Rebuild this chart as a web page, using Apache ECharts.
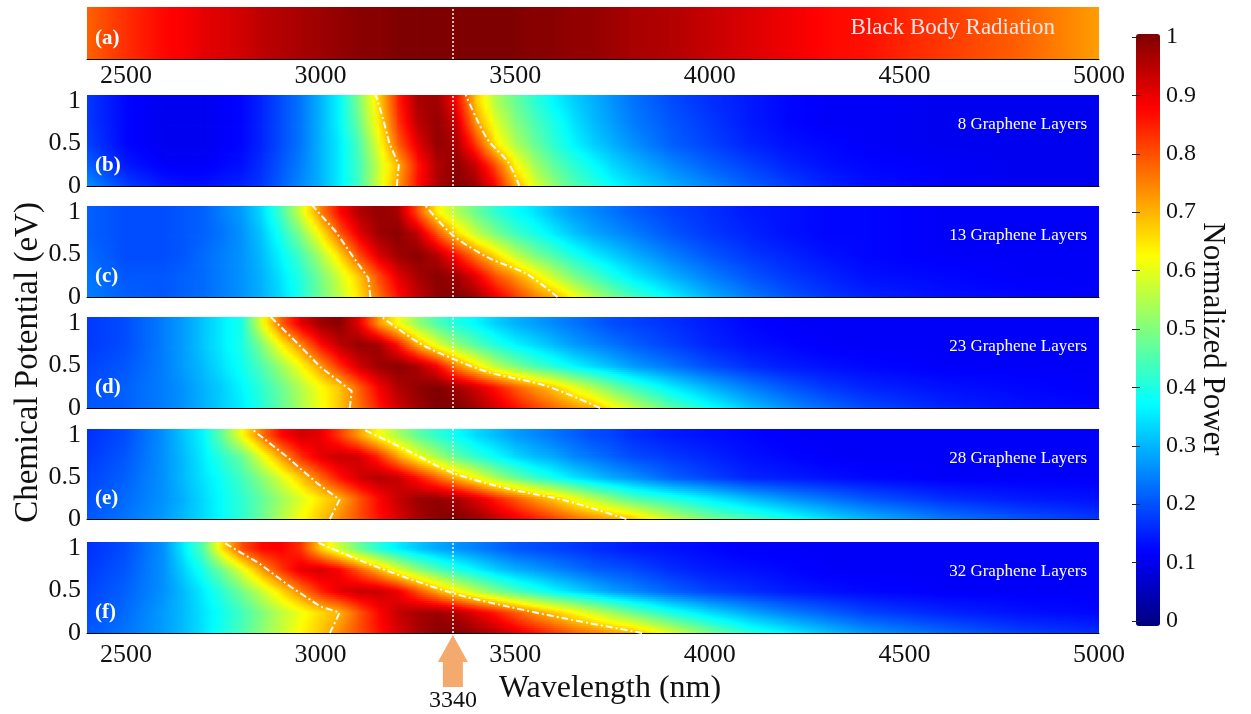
<!DOCTYPE html>
<html><head><meta charset="utf-8">
<script src="https://cdn.jsdelivr.net/npm/echarts@6/dist/echarts.min.js"></script>
<style>html,body{margin:0;padding:0;background:#fff}#chart{width:1251px;height:714px}</style>
</head><body><div id="chart"></div>
<script>
// ---------------- DATA ----------------
const wavelengths = [2400,2500,2600,2650,2700,2750,2800,2850,2900,2950,3000,3050,3100,3150,3200,3250,3300,3350,3400,3450,3500,3550,3600,3650,3700,3750,3800,3900,4000,4100,4200,4300,4400,4600,4800,5000];
const muLevels = [0, 0.25, 0.5, 0.75, 1];
const muTop = 1.07;
const xTicks = [2500,3000,3500,4000,4500,5000];
const yTicks = [0, 0.5, 1];
const markerWavelength = 3340;

const blackBody = [.78,.83,.87,.88,.9,.91,.92,.94,.95,.96,.97,.98,.99,.99,1,1,1,1,1,1,1,.99,.99,.98,.98,.97,.96,.95,.93,.91,.89,.87,.86,.82,.78,.72];

// rows: mu = 0, 0.25, 0.5, 0.75, 1
const layers8 = [
 [.27,.19,.15,.14,.14,.15,.16,.18,.22,.26,.3,.36,.44,.58,.72,.86,.95,1,.97,.88,.72,.6,.52,.46,.42,.38,.35,.3,.26,.22,.19,.16,.14,.12,.11,.11],
 [.22,.15,.12,.12,.12,.13,.14,.17,.21,.25,.3,.36,.44,.57,.7,.85,.95,.99,.93,.8,.64,.54,.47,.42,.38,.34,.31,.26,.22,.19,.16,.14,.13,.12,.11,.11],
 [.19,.13,.11,.11,.11,.12,.13,.16,.2,.24,.3,.36,.45,.6,.78,.9,.98,.96,.82,.65,.55,.48,.42,.37,.33,.3,.27,.22,.19,.16,.14,.13,.12,.11,.11,.11],
 [.18,.13,.11,.11,.11,.12,.13,.16,.2,.24,.3,.37,.48,.64,.82,.94,.98,.93,.73,.6,.51,.45,.4,.35,.31,.28,.25,.21,.18,.15,.13,.12,.12,.11,.11,.11],
 [.18,.13,.11,.11,.11,.12,.13,.16,.2,.24,.3,.37,.5,.66,.84,.96,.97,.88,.68,.55,.48,.42,.37,.33,.3,.27,.24,.2,.17,.15,.13,.12,.12,.11,.11,.11]
];
const layers13 = [
 [.25,.22,.21,.22,.23,.25,.27,.3,.34,.4,.48,.56,.65,.76,.86,.93,.98,1,.97,.9,.83,.76,.71,.63,.56,.5,.45,.37,.3,.25,.21,.18,.16,.14,.13,.12],
 [.24,.21,.21,.22,.23,.25,.27,.3,.35,.41,.49,.58,.68,.8,.9,.96,.99,.97,.9,.8,.73,.65,.57,.5,.45,.4,.36,.3,.25,.21,.18,.16,.14,.13,.12,.12],
 [.23,.2,.2,.21,.23,.25,.27,.31,.37,.44,.54,.66,.8,.91,.97,.99,.95,.86,.75,.66,.57,.5,.45,.4,.36,.33,.3,.25,.21,.18,.16,.14,.13,.12,.12,.12],
 [.22,.2,.2,.21,.22,.24,.27,.32,.4,.5,.63,.78,.9,.97,.99,.94,.8,.67,.57,.5,.44,.4,.36,.32,.29,.27,.25,.21,.18,.16,.14,.13,.13,.12,.12,.12],
 [.22,.2,.2,.21,.22,.25,.28,.34,.44,.58,.74,.87,.95,.98,.96,.8,.64,.55,.48,.42,.38,.35,.31,.28,.26,.24,.22,.19,.17,.15,.14,.13,.13,.12,.12,.12]
];
const layers23 = [
 [.21,.22,.25,.27,.3,.33,.36,.41,.47,.54,.61,.68,.76,.85,.92,.97,1,1,.97,.92,.87,.82,.78,.74,.71,.64,.58,.47,.39,.32,.27,.23,.2,.16,.14,.13],
 [.2,.22,.25,.27,.3,.33,.37,.42,.48,.55,.62,.68,.78,.88,.95,.98,1,.97,.92,.86,.79,.73,.68,.61,.55,.49,.44,.36,.3,.25,.21,.18,.16,.14,.13,.12],
 [.19,.21,.25,.28,.31,.35,.39,.45,.53,.62,.72,.83,.92,.97,.99,.96,.88,.75,.65,.56,.5,.45,.41,.37,.34,.31,.28,.24,.2,.17,.15,.14,.13,.12,.12,.12],
 [.18,.2,.25,.28,.32,.36,.4,.5,.63,.74,.86,.94,.98,.97,.86,.71,.6,.52,.46,.41,.37,.34,.31,.28,.26,.24,.22,.19,.16,.14,.13,.12,.12,.12,.12,.12],
 [.18,.2,.25,.28,.32,.36,.4,.6,.78,.9,.97,.99,.9,.73,.62,.52,.45,.4,.37,.33,.3,.28,.26,.24,.22,.2,.19,.17,.15,.13,.12,.12,.12,.12,.12,.12]
];
const layers28 = [
 [.21,.24,.28,.31,.34,.38,.42,.48,.55,.62,.68,.74,.8,.86,.91,.96,.99,1,.98,.94,.9,.86,.82,.78,.75,.72,.69,.58,.5,.45,.4,.35,.31,.25,.21,.18],
 [.2,.23,.27,.3,.34,.38,.42,.47,.53,.59,.65,.7,.79,.87,.93,.97,.98,.96,.91,.85,.79,.73,.68,.62,.56,.51,.46,.41,.36,.31,.27,.24,.21,.17,.15,.14],
 [.19,.22,.27,.31,.35,.39,.44,.51,.59,.68,.77,.86,.92,.95,.93,.86,.78,.7,.62,.54,.48,.43,.39,.35,.32,.29,.27,.22,.19,.16,.15,.14,.13,.12,.12,.12],
 [.18,.21,.27,.31,.36,.42,.48,.6,.72,.83,.9,.93,.92,.84,.72,.62,.54,.47,.42,.38,.34,.31,.29,.26,.24,.22,.2,.18,.16,.14,.13,.12,.12,.12,.12,.12],
 [.17,.2,.27,.32,.37,.48,.62,.76,.87,.92,.9,.82,.72,.62,.54,.47,.42,.38,.34,.31,.28,.26,.24,.22,.2,.19,.17,.15,.14,.13,.12,.12,.12,.12,.12,.12]
];
const layers32 = [
 [.21,.24,.28,.31,.35,.4,.45,.51,.57,.63,.68,.74,.8,.86,.91,.96,.99,1,.98,.95,.91,.87,.83,.79,.76,.73,.71,.6,.5,.42,.37,.32,.28,.23,.19,.17],
 [.2,.23,.28,.31,.35,.39,.44,.5,.56,.61,.66,.7,.79,.87,.93,.96,.97,.95,.9,.85,.79,.73,.68,.63,.58,.53,.48,.4,.34,.29,.25,.22,.19,.16,.14,.13],
 [.19,.22,.27,.31,.36,.42,.49,.57,.66,.75,.84,.9,.93,.93,.89,.8,.71,.63,.56,.5,.45,.41,.37,.34,.31,.28,.26,.22,.19,.17,.15,.14,.13,.12,.12,.12],
 [.18,.21,.27,.33,.4,.49,.6,.72,.82,.9,.92,.88,.79,.7,.6,.52,.46,.41,.37,.33,.3,.28,.26,.24,.22,.21,.2,.17,.15,.14,.13,.12,.12,.12,.12,.12],
 [.17,.2,.27,.36,.46,.66,.8,.87,.88,.83,.68,.57,.48,.41,.36,.32,.29,.27,.25,.23,.21,.2,.19,.18,.17,.16,.15,.14,.13,.12,.12,.12,.12,.12,.12,.12]
];

// white dash-dot contour lines [wavelength, mu]
const contour8L  = [[3196,0],[3201,0.25],[3177,0.5],[3160,0.8],[3142,1.07]];
const contour8R  = [[3511,0],[3482,0.28],[3432,0.53],[3400,0.8],[3373,1.07]];
const contour13L = [[3128,0],[3123,0.22],[3078,0.51],[3039,0.77],[2980,1.07]];
const contour13R = [[3609,0],[3530,0.27],[3432,0.46],[3339,0.73],[3270,1.07]];
const contour23L = [[3075,0],[3080,0.2],[3000,0.48],[2941,0.76],[2872,1.07]];
const contour23R = [[3718,0],[3580,0.26],[3432,0.42],[3339,0.58],[3255,0.76],[3157,1.07]];
const contour28L = [[3024,0],[3049,0.23],[2990,0.43],[2911,0.75],[2823,1.07]];
const contour28R = [[3786,0],[3629,0.22],[3482,0.36],[3339,0.55],[3216,0.83],[3108,1.07]];
const contour32L = [[3024,0],[3049,0.24],[3000,0.31],[2921,0.55],[2842,0.82],[2749,1.07]];
const contour32R = [[3826,0],[3629,0.17],[3482,0.31],[3339,0.47],[3137,0.79],[2990,1.07]];

const panelLabels = ['(a)','(b)','(c)','(d)','(e)','(f)'];
const panelTitles = ['Black Body Radiation','8 Graphene Layers','13 Graphene Layers','23 Graphene Layers','28 Graphene Layers','32 Graphene Layers'];

// ---------------- LAYOUT / STYLE ----------------
const FONT = 'Liberation Serif';
const LEFT = 87, WIDTH = 1012;
const panelTops = [7, 95, 206, 317, 429, 542];
const panelHeights = [52, 91, 91, 91, 90, 91];
const jetColors = ['#00007f','#0000ff','#007fff','#00ffff','#7fff7f','#ffff00','#ff7f00','#ff0000','#7f0000'];
const TICK_FS = 26;

const panels = [
  {rows:[blackBody], mus:[0], yMax:1},
  {rows:layers8, mus:muLevels, yMax:muTop, cl:contour8L, cr:contour8R},
  {rows:layers13, mus:muLevels, yMax:muTop, cl:contour13L, cr:contour13R},
  {rows:layers23, mus:muLevels, yMax:muTop, cl:contour23L, cr:contour23R},
  {rows:layers28, mus:muLevels, yMax:muTop, cl:contour28L, cr:contour28R},
  {rows:layers32, mus:muLevels, yMax:muTop, cl:contour32L, cr:contour32R}
];

function jet(v){ return echarts.color.lerp(Math.max(0, Math.min(1, v)), jetColors); }

function makeHeatRender(p){
  const nC = wavelengths.length;
  return function(params, api){
    const idx = params.dataIndex;
    const j = Math.floor(idx / nC), i = idx % nC;
    if (i === nC - 1) return null;
    const last = j === p.mus.length - 1;
    const a = api.coord([wavelengths[i], p.mus[j]]);
    const b = api.coord([wavelengths[i+1], last ? p.yMax : p.mus[j+1]]);
    const x0 = a[0], x1 = b[0], yb = a[1], yt = b[1];
    const h = yb - yt;
    const nSub = last ? 1 : Math.max(1, Math.round(h / 2));
    const children = [];
    const xl = i > 0 ? x0 - 0.8 : x0;
    for (let k = 0; k < nSub; k++){
      const t = (k + 0.5) / nSub;
      const vl = last ? p.rows[j][i] : p.rows[j][i] + (p.rows[j+1][i] - p.rows[j][i]) * t;
      const vr = last ? p.rows[j][i+1] : p.rows[j][i+1] + (p.rows[j+1][i+1] - p.rows[j][i+1]) * t;
      const stops = [];
      for (let s = 0; s <= 4; s++){ const u = s / 4; stops.push({offset:u, color:jet(vl + (vr - vl) * u)}); }
      const yB = yb - h * k / nSub, yT = yb - h * (k + 1) / nSub;
      const bot = (j === 0 && k === 0) ? yB : yB + 0.8;
      children.push({type:'rect', silent:true,
        shape:{x:xl, y:yT, width:x1 - xl, height:bot - yT},
        style:{fill:{type:'linear', x:0, y:0, x2:1, y2:0, colorStops:stops}}});
    }
    return {type:'group', children};
  };
}

const grids = panelTops.map((t,k)=>({left:LEFT, width:WIDTH, top:t, height:panelHeights[k], outerBoundsMode:'none', containLabel:false}));
grids.push({left:1136, width:24, top:37, height:584, outerBoundsMode:'none', containLabel:false});

const xAxes = panels.map((p,k)=>({
  type:'value', gridIndex:k, min:2400, max:5000,
  axisLine:{show:true, onZero:false, lineStyle:{color:'#000', width:1}},
  axisTick:{show:false}, splitLine:{show:false},
  axisLabel:{show:(k===0||k===5), customValues:xTicks, formatter:v=>String(v), fontFamily:FONT, fontSize:TICK_FS, color:'#111', margin:(k===0?4:9)},
  name:(k===5?'Wavelength (nm)':''), nameLocation:'middle', nameGap:40, nameMoveOverlap:false,
  nameTextStyle:{fontFamily:FONT, fontSize:32, color:'#111', padding:[0,0,0,34]}
}));
xAxes.push({type:'value', gridIndex:6, min:0, max:1, show:false});

const yAxes = panels.map((p,k)=> k===0 ? {type:'value', gridIndex:0, min:0, max:1, show:false} : ({
  type:'value', gridIndex:k, min:0, max:muTop,
  axisLine:{show:false}, axisTick:{show:false}, splitLine:{show:false},
  axisLabel:{customValues:yTicks, formatter:v=>String(v), fontFamily:FONT, fontSize:TICK_FS, color:'#111', margin:6},
  name:(k===3?'Chemical Potential (eV)':''), nameLocation:'middle', nameGap:42, nameRotate:90, nameMoveOverlap:false,
  nameTextStyle:{fontFamily:FONT, fontSize:33, color:'#111'}
}));
yAxes.push({type:'value', gridIndex:6, min:0, max:1, interval:0.1, position:'right', z:10,
  axisLine:{show:false}, splitLine:{show:false},
  axisTick:{show:true, inside:true, length:4, lineStyle:{color:'#222'}},
  axisLabel:{fontFamily:FONT, fontSize:24, color:'#111', margin:6, formatter:v=>String(+v.toFixed(1))},
  name:'Normalized Power', nameLocation:'middle', nameRotate:-90, nameGap:37, nameMoveOverlap:false,
  nameTextStyle:{fontFamily:FONT, fontSize:31, color:'#111', padding:[0,0,0,20]}});
yAxes.push({type:'value', gridIndex:6, min:0, max:1, interval:0.1, position:'left', z:10,
  axisLine:{show:false}, splitLine:{show:false}, axisLabel:{show:false},
  axisTick:{show:true, inside:true, length:4, lineStyle:{color:'#222'}}});

const series = [];
panels.forEach((p,k)=>{
  const data = [];
  p.rows.forEach((row,j)=>row.forEach((v,i)=>data.push([wavelengths[i], p.mus[j], v])));
  series.push({type:'custom', name:'heat'+k, xAxisIndex:k, yAxisIndex:k, data, silent:true, z:1,
    encode:{x:0, y:1}, renderItem:makeHeatRender(p), animation:false,
    markLine:{silent:true, symbol:['none','none'], label:{show:false}, animation:false,
      lineStyle:{color:'#ffffff', type:[2,2], width:1.5, opacity:0.95},
      data:[{xAxis:markerWavelength}]}});
});
const heatIdx = series.map((s,i)=>i);
panels.forEach((p,k)=>{
  if (!p.cl) return;
  series.push({type:'line', xAxisIndex:k, yAxisIndex:k, data:p.cl, showSymbol:false, symbol:'none',
    silent:true, z:4, animation:false, lineStyle:{color:'#ffffff', width:2, type:[7,3,2,3], opacity:0.95}});
  series.push({type:'line', xAxisIndex:k, yAxisIndex:k, data:p.cr, showSymbol:false, symbol:'none', smooth:0.3,
    silent:true, z:4, animation:false, lineStyle:{color:'#ffffff', width:2, type:[7,3,2,3], opacity:0.95}});
});
series.push({type:'custom', xAxisIndex:5, yAxisIndex:5, data:[[markerWavelength, 0]], silent:true, z:10, animation:false,
  renderItem:(params, api)=>{
    const c = api.coord([api.value(0), api.value(1)]);
    const x = c[0], y = c[1];
    return {type:'group', children:[
      {type:'polygon', shape:{points:[[x,y+2],[x+15,y+29],[x+10,y+29],[x+10,y+54],[x-10,y+54],[x-10,y+29],[x-15,y+29]]}, style:{fill:'#f4aa6c'}},
      {type:'text', x:x, y:y+68, style:{text:String(api.value(0)), fill:'#111', font:'24px "Liberation Serif"', align:'center', verticalAlign:'middle'}}
    ]};
  }});

const graphic = [];
panels.forEach((p,k)=>{
  graphic.push({type:'text', x:95, y:panelTops[k]+panelHeights[k]-20, silent:true, z:20,
    style:{text:panelLabels[k], fill:'#ffffff', font:'bold 21px "Liberation Serif"', align:'left', verticalAlign:'middle'}});
  if (k===0) graphic.push({type:'text', x:1055, y:28, silent:true, z:20,
    style:{text:panelTitles[k], fill:'#ffe6e6', font:'23px "Liberation Serif"', align:'right', verticalAlign:'middle'}});
  else graphic.push({type:'text', x:1087, y:panelTops[k]+30, silent:true, z:20,
    style:{text:panelTitles[k], fill:'#ffffff', font:'17px "Liberation Serif"', align:'right', verticalAlign:'middle'}});
});

const chart = echarts.init(document.getElementById('chart'), null, {renderer:'canvas'});
chart.setOption({
  animation:false,
  backgroundColor:'#ffffff',
  grid:grids, xAxis:xAxes, yAxis:yAxes,
  visualMap:{type:'continuous', min:0, max:1, seriesIndex:heatIdx, dimension:2, orient:'vertical',
    left:1136, top:34, itemWidth:24, itemHeight:592, padding:0, calculable:false, hoverLink:false,
    inRange:{color:jetColors}},
  series, graphic
});
</script></body></html>
